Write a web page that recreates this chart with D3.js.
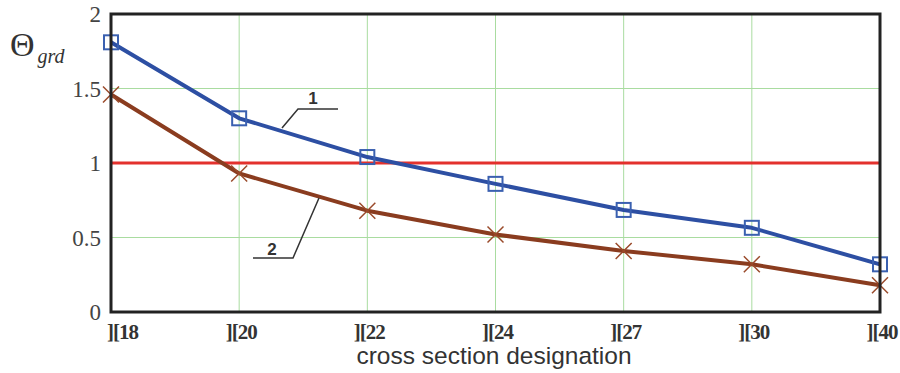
<!DOCTYPE html>
<html>
<head>
<meta charset="utf-8">
<script src="https://cdn.jsdelivr.net/npm/d3@7"></script>
<style>
  body { margin: 0; background: #fff; }
</style>
</head>
<body>
<script>
var categories = ['][18', '][20', '][22', '][24', '][27', '][30', '][40'];
var series1 = [1.81, 1.30, 1.04, 0.86, 0.685, 0.565, 0.32];
var series2 = [1.46, 0.93, 0.68, 0.52, 0.41, 0.32, 0.18];
var limitValue = 1;
var yTicks = [0, 0.5, 1, 1.5, 2];

var width = 900, height = 373;
var margin = {left: 111, right: 20, top: 14, bottom: 61};

var svg = d3.select('body').append('svg').attr('width', width).attr('height', height);

var x = d3.scalePoint().domain(categories).range([margin.left, width - margin.right]);
var y = d3.scaleLinear().domain([0, 2]).range([height - margin.bottom, margin.top]);

// grid
svg.append('g').selectAll('line.vg')
	.data(categories.slice(1, -1))
	.enter().append('line')
		.attr('x1', d => x(d)).attr('x2', d => x(d))
		.attr('y1', y(0)).attr('y2', y(2))
		.attr('stroke', '#a9dca0').attr('stroke-width', 1);
svg.append('g').selectAll('line.hg')
	.data(yTicks.slice(1, -1))
	.enter().append('line')
		.attr('x1', x.range()[0]).attr('x2', x.range()[1])
		.attr('y1', d => y(d)).attr('y2', d => y(d))
		.attr('stroke', '#a9dca0').attr('stroke-width', 1);

// y tick labels
svg.append('g').selectAll('text')
	.data(yTicks)
	.enter().append('text')
		.attr('x', 101)
		.attr('y', d => y(d))
		.attr('dy', '0.35em')
		.attr('text-anchor', 'end')
		.attr('font-family', 'Liberation Serif')
		.attr('font-size', 23)
		.attr('fill', '#444')
		.text(d => d);

// x tick labels
svg.append('g').selectAll('text')
	.data(categories)
	.enter().append('text')
		.attr('x', (d, i) => i === 0 ? x(d) - 4 : x(d) + 2)
		.attr('y', 339)
		.attr('text-anchor', (d, i) => i === 0 ? 'start' : 'middle')
		.attr('font-family', 'Liberation Serif')
		.attr('font-weight', 'bold')
		.attr('font-size', 21)
		.attr('letter-spacing', -1)
		.attr('fill', '#333')
		.text(d => d);

// axis titles
svg.append('text')
	.attr('x', 494).attr('y', 364)
	.attr('text-anchor', 'middle')
	.attr('font-family', 'Liberation Sans')
	.attr('font-size', 24.5)
	.attr('fill', '#333')
	.text('cross section designation');

var yt = svg.append('text').attr('x', 10).attr('y', 56).attr('fill', '#333').attr('font-family', 'Liberation Serif');
yt.append('tspan').attr('font-size', 34).text('Θ');
yt.append('tspan').attr('font-size', 20).attr('font-style', 'italic').attr('dy', 7).attr('dx', 3).text('grd');

// limit line
svg.append('line')
	.attr('x1', x.range()[0]).attr('x2', x.range()[1])
	.attr('y1', y(limitValue)).attr('y2', y(limitValue))
	.attr('stroke', '#e3312d').attr('stroke-width', 3);

var line = d3.line().x((d, i) => x(categories[i])).y(d => y(d));

svg.append('path').datum(series2)
	.attr('d', line).attr('fill', 'none')
	.attr('stroke', '#8a3c1f').attr('stroke-width', 4).attr('stroke-linejoin', 'round');
svg.append('path').datum(series1)
	.attr('d', line).attr('fill', 'none')
	.attr('stroke', '#2d4fa3').attr('stroke-width', 4).attr('stroke-linejoin', 'round');

// markers
svg.append('g').selectAll('rect')
	.data(series1)
	.enter().append('rect')
		.attr('x', (d, i) => x(categories[i]) - 7)
		.attr('y', d => y(d) - 7)
		.attr('width', 14).attr('height', 14)
		.attr('fill', 'none')
		.attr('stroke', '#3a60b0').attr('stroke-width', 2);
svg.append('g').selectAll('path')
	.data(series2)
	.enter().append('path')
		.attr('d', (d, i) => {
			var cx = x(categories[i]), cy = y(d), s = 8;
			return 'M' + (cx - s) + ',' + (cy - s) + 'L' + (cx + s) + ',' + (cy + s) +
				'M' + (cx - s) + ',' + (cy + s) + 'L' + (cx + s) + ',' + (cy - s);
		})
		.attr('stroke', '#9a4a2a').attr('stroke-width', 1.5);

// callouts
var callouts = [
	{label: '1', tx: 313, ty: 104, path: [[282, 128], [298, 109], [338, 109]]},
	{label: '2', tx: 272, ty: 255, path: [[319, 198], [293, 258], [253, 258]]}
];
callouts.forEach(c => {
	svg.append('path')
		.attr('d', d3.line()(c.path))
		.attr('fill', 'none').attr('stroke', '#333').attr('stroke-width', 1.5);
	svg.append('text')
		.attr('x', c.tx).attr('y', c.ty)
		.attr('text-anchor', 'middle')
		.attr('font-family', 'Liberation Sans')
		.attr('font-weight', 'bold')
		.attr('font-size', 17)
		.attr('fill', '#333')
		.text(c.label);
});

// frame
svg.append('rect')
	.attr('x', x.range()[0]).attr('y', y(2))
	.attr('width', x.range()[1] - x.range()[0])
	.attr('height', y(0) - y(2))
	.attr('fill', 'none').attr('stroke', '#222').attr('stroke-width', 3);
</script>
</body>
</html>
